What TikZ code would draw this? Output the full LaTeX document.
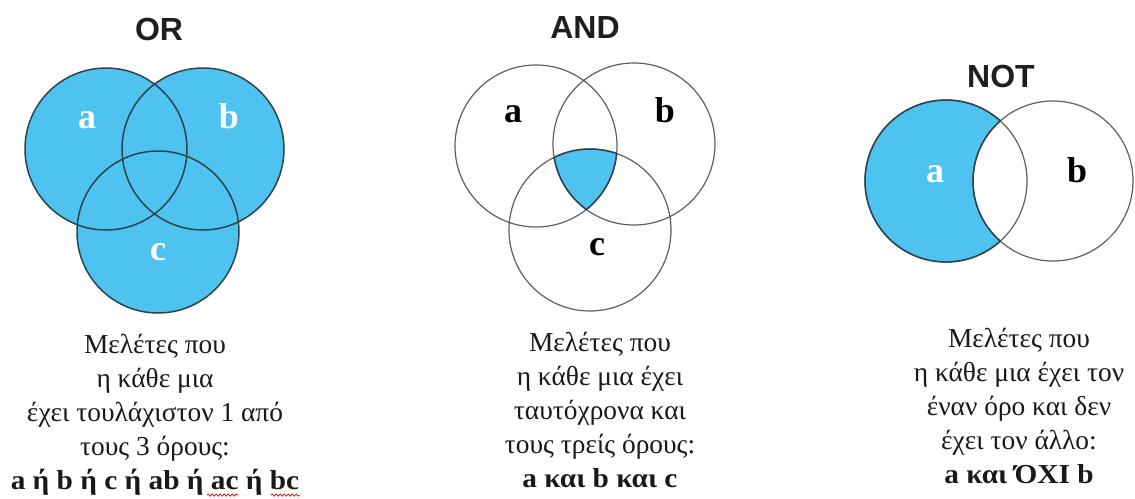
\documentclass[tikz,border=0pt]{standalone}
\usepackage{fontspec}
\setmainfont{Liberation Serif}
\newfontfamily\headfont{Liberation Sans}
\newfontfamily\wideserif[FakeStretch=1.07]{Liberation Serif}
\usetikzlibrary{decorations.pathmorphing}
\definecolor{setblue}{RGB}{79,195,239}
\definecolor{setedge}{RGB}{44,68,82}
\definecolor{ringgray}{RGB}{95,95,95}

\begin{document}
\begin{tikzpicture}[
		x=1pt, y=-1pt,
		optitle/.style={anchor=base, inner sep=0, text=black!88, font=\headfont\bfseries\fontsize{32}{32}\selectfont},
		setlabel/.style={anchor=base, inner sep=0, font=\bfseries\fontsize{36}{36}\selectfont},
		caption/.style={anchor=base, inner sep=0, align=center, text=black!90, font=\fontsize{27.4}{34}\selectfont},
		ring/.style={draw=ringgray, line width=1.2pt},
		edge/.style={draw=setedge, line width=1.5pt},
		spell/.style={draw=red!85!black, line width=0.7pt, decorate, decoration={snake, segment length=4pt, amplitude=1.1pt}}
		]
		\useasboundingbox (0,0) rectangle (1135,498);
		
		% OR
		\coordinate (ora) at (106,149);
		\coordinate (orb) at (203,149);
		\coordinate (orc) at (158,232);
		\fill[setblue] (ora) circle (81pt) (orb) circle (81pt) (orc) circle (81pt);
		\draw[edge] (ora) circle (81pt) (orb) circle (81pt) (orc) circle (81pt);
		\node (ortitle) at (159,40) [optitle] {OR};
		\node (orla) at (87,128) [setlabel, text=white] {a};
		\node (orlb) at (229,128) [setlabel, text=white] {b};
		\node (orlc) at (158,260) [setlabel, text=white] {c};
		\node (ortext) at (155,489) [caption] {Μελέτες που\\η κάθε μια\\έχει τουλάχιστον 1 από\\τους 3 όρους:\\
			{\wideserif\bfseries a ή b ή c ή ab ή ac ή bc}};
		\draw[spell] (207,495) -- (238,495);
		\draw[spell] (271,495) -- (300,495);
		
		% AND
		\coordinate (anda) at (536,146);
		\coordinate (andb) at (634,144);
		\coordinate (andc) at (590,230);
		\begin{scope}
			\clip (anda) circle (81pt);
			\clip (andb) circle (81pt);
			\fill[setblue] (andc) circle (81pt);
		\end{scope}
		\draw[ring] (anda) circle (81pt) (andb) circle (81pt) (andc) circle (81pt);
		\begin{scope}
			\clip (anda) circle (81pt);
			\clip (andb) circle (81pt);
			\draw[edge] (andc) circle (81pt);
		\end{scope}
		\begin{scope}
			\clip (anda) circle (81pt);
			\clip (andc) circle (81pt);
			\draw[edge] (andb) circle (81pt);
		\end{scope}
		\begin{scope}
			\clip (andb) circle (81pt);
			\clip (andc) circle (81pt);
			\draw[edge] (anda) circle (81pt);
		\end{scope}
		\node (andtitle) at (585,38) [optitle] {AND};
		\node (andla) at (513,122) [setlabel] {a};
		\node (andlb) at (665,122) [setlabel] {b};
		\node (andlc) at (597,255) [setlabel] {c};
		\node (andtext) at (600,487) [caption] {Μελέτες που\\η κάθε μια έχει\\ταυτόχρονα και\\τους τρείς όρους:\\
			{\wideserif\bfseries a και b και c}};
		
		% NOT
		\coordinate (nota) at (946,181);
		\coordinate (notb) at (1053,181);
		\fill[setblue] (nota) circle (81pt);
		\fill[white] (notb) circle (80pt);
		\draw[ring] (nota) circle (81pt) (notb) circle (80pt);
		\begin{scope}[even odd rule]
			\clip (notb) circle (80pt) (0,0) rectangle (1135,498);
			\draw[edge] (nota) circle (81pt);
		\end{scope}
		\begin{scope}
			\clip (nota) circle (81pt);
			\draw[edge] (notb) circle (80pt);
		\end{scope}
		\node (nottitle) at (1001,87) [optitle] {NOT};
		\node (notla) at (935,182) [setlabel, text=white] {a};
		\node (notlb) at (1077,182) [setlabel] {b};
		\node (nottext) at (1019,483) [caption] {Μελέτες που\\η κάθε μια έχει τον\\έναν όρο και δεν\\έχει τον άλλο:\\
			{\wideserif\bfseries a και ΌΧΙ b}};
	\end{tikzpicture}
\end{document}
